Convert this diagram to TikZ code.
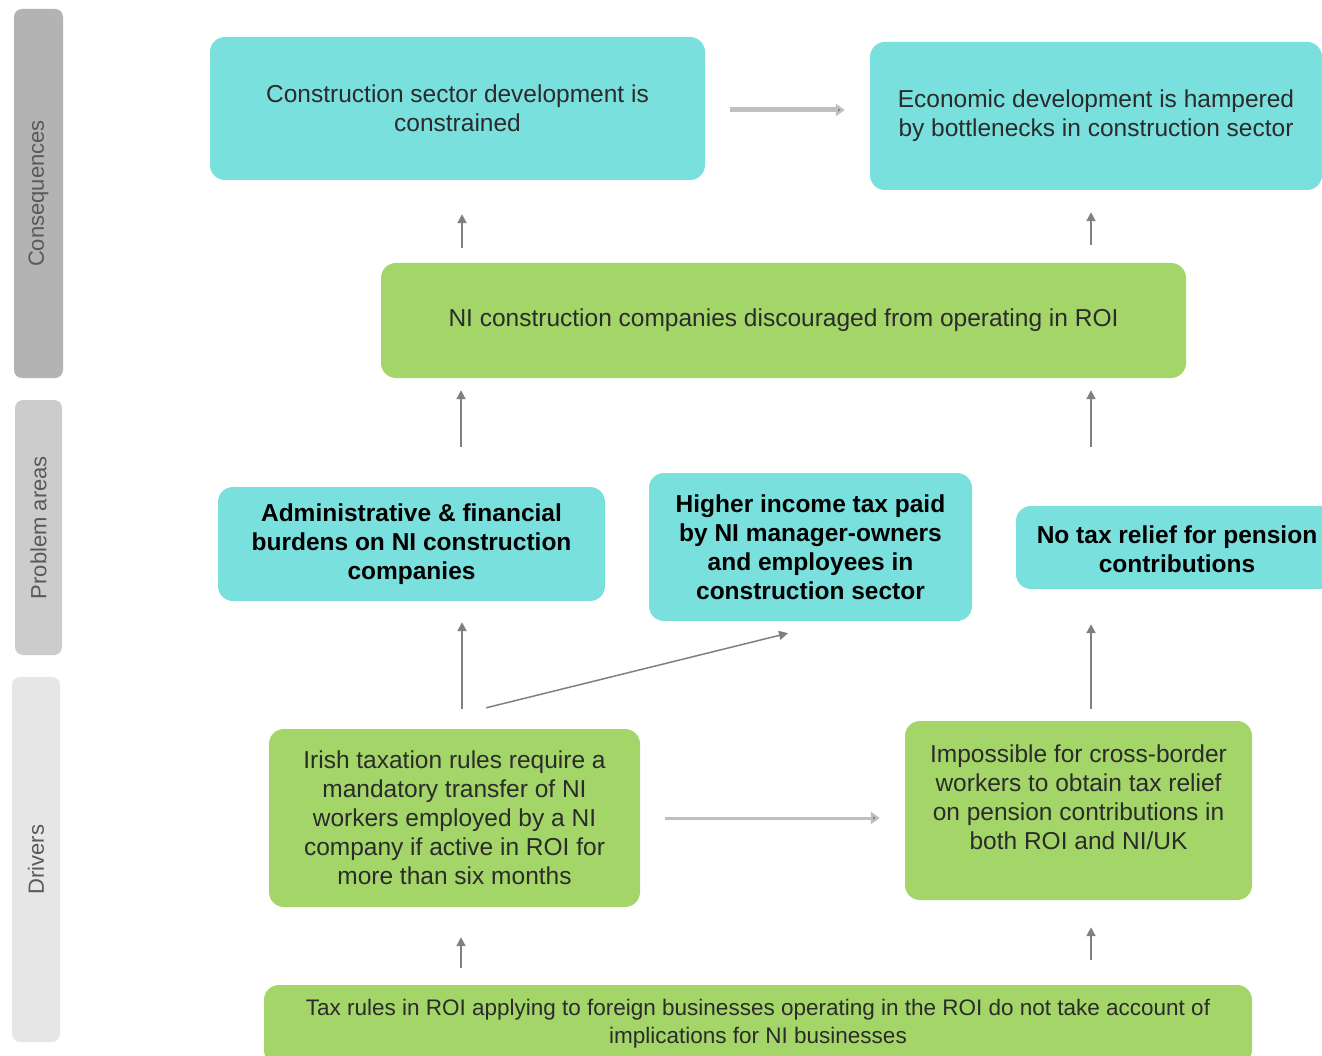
\documentclass[tikz,border=0pt]{standalone}
\usepackage{fontspec}
\setmainfont{Liberation Sans}
\usetikzlibrary{arrows.meta}
\definecolor{cyanbox}{HTML}{7AE0DE}
\definecolor{greenbox}{HTML}{A3D568}
\definecolor{bar1}{HTML}{B3B3B3}
\definecolor{bar2}{HTML}{CCCCCC}
\definecolor{bar3}{HTML}{E6E6E6}
\definecolor{arrgray}{HTML}{808080}
\definecolor{arrlight}{HTML}{BFBFBF}
\definecolor{txtgray}{HTML}{2B2B2B}
\tikzset{
  box/.style={rectangle, rounded corners=15pt, inner sep=0pt, align=center,
    font=\fontsize{24.5}{29}\selectfont, text=txtgray},
  cbox/.style={box, fill=cyanbox},
  gbox/.style={box, fill=greenbox},
  boldtxt/.style={font=\fontsize{24.5}{29}\selectfont\bfseries, text=black},
  sidebar/.style={rectangle, rounded corners=8pt, inner sep=0pt},
  sidelabel/.style={rotate=90, font=\fontsize{22}{24}\selectfont, text=black!65},
  arr/.style={draw=arrgray, line width=2pt, -{Triangle[length=9pt,width=9pt]}},
  arrl/.style={draw=arrlight, line width=5pt, -{Triangle[length=9pt,width=12pt,fill=arrgray]}},
}
\begin{document}
\begin{tikzpicture}[x=1pt,y=-1pt]
\clip (0,0) rectangle (1322,1056);
\fill[white] (0,0) rectangle (1322,1056);
% side bars
\node[sidebar, fill=bar1, minimum width=49pt, minimum height=369pt] (S1) at (38.5,193.5) {};
\node[sidelabel] (S1t) at (S1.center) {Consequences};
\node[sidebar, fill=bar2, minimum width=47pt, minimum height=255pt] (S2) at (38.5,527.5) {};
\node[sidelabel] (S2t) at (S2.center) {Problem areas};
\node[sidebar, fill=bar3, minimum width=48pt, minimum height=365pt] (S3) at (36,859.5) {};
\node[sidelabel] (S3t) at (S3.center) {Drivers};
% boxes
\node[cbox, minimum width=495pt, minimum height=143pt] (A) at (457.5,108.5)
  {Construction sector development is\\constrained};
\node[cbox, minimum width=452pt, minimum height=148pt] (B) at (1096,116)
  {Economic development is hampered\\by bottlenecks in construction sector};
\node[gbox, minimum width=805pt, minimum height=115pt] (C) at (783.5,320.5)
  {NI construction companies discouraged from operating in ROI};
\node[cbox, boldtxt, minimum width=387pt, minimum height=114pt] (D) at (411.5,544)
  {Administrative \& financial\\burdens on NI construction\\companies};
\node[cbox, boldtxt, minimum width=323pt, minimum height=148pt] (E) at (810.5,547)
  {Higher income tax paid\\by NI manager-owners\\and employees in\\construction sector};
\node[cbox, minimum width=320pt, minimum height=83pt] (F) at (1176,547.5) {};
\node[boldtxt, align=center] (Ft) at (1177,549.5)
  {No tax relief for pension\\contributions};
\node[gbox, minimum width=371pt, minimum height=178pt] (G) at (454.5,818)
  {Irish taxation rules require a\\mandatory transfer of NI\\workers employed by a NI\\company if active in ROI for\\more than six months};
\node[gbox, minimum width=347pt, minimum height=179pt] (H) at (1078.5,810.5) {};
\node[align=center, font=\fontsize{24.5}{29}\selectfont, text=txtgray] (Ht) at (1078.5,797)
  {Impossible for cross-border\\workers to obtain tax relief\\on pension contributions in\\both ROI and NI/UK};
\node[gbox, minimum width=988pt, minimum height=80pt] (I) at (758,1025) {};
\node[align=center, font=\fontsize{22.5}{28}\selectfont, text=txtgray] (It) at (758,1024)
  {Tax rules in ROI applying to foreign businesses operating in the ROI do not take account of\\implications for NI businesses};
% arrows
\draw[arrl] ([xshift=25pt,yshift=-1.5pt]A.east) -- ([xshift=-25pt,yshift=-1.5pt]B.west |- A.east);
\draw[arr] ([yshift=15pt]C.north -| 462,0) -- ([yshift=-34pt]A.south -| 462,0);
\draw[arr] ([yshift=18pt]C.north -| 1091,0) -- ([yshift=-22pt]B.south -| 1091,0);
\draw[arr] ([yshift=40pt]D.north -| 461,0) -- ([yshift=-12pt]C.south -| 461,0);
\draw[arr] ([yshift=59pt]F.north -| 1091,0) -- ([yshift=-12pt]C.south -| 1091,0);
\draw[arr] ([yshift=20pt]G.north -| 462,0) -- ([yshift=-21pt]D.south -| 462,0);
\draw[arr, line width=1.5pt] ([xshift=-154pt,yshift=21pt]G.north east) -- ([xshift=-22.5pt,yshift=-12pt]E.south);
\draw[arrl, line width=3pt] ([xshift=25pt]G.east) -- ([xshift=-25pt]G.east -| H.west);
\draw[arr] ([yshift=12pt]H.north -| 1091,0) -- ([yshift=-35pt]F.south -| 1091,0);
\draw[arr] ([yshift=17pt]I.north -| 461,0) -- ([yshift=-30pt]G.south -| 461,0);
\draw[arr] ([yshift=25pt]I.north -| 1091,0) -- ([yshift=-27pt]H.south -| 1091,0);
\end{tikzpicture}
\end{document}
